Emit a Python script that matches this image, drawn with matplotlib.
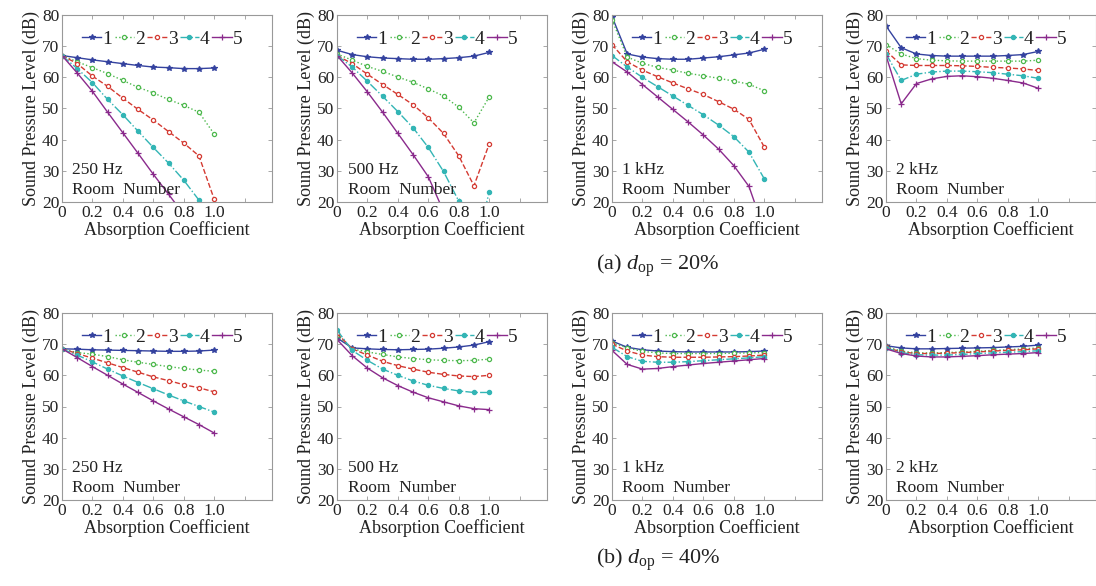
import matplotlib
matplotlib.use("Agg")
import matplotlib.pyplot as plt

plt.rcParams['font.family'] = ['Liberation Serif', 'DejaVu Serif']
plt.rcParams['mathtext.fontset'] = 'custom'
plt.rcParams['mathtext.rm'] = 'Liberation Serif'
plt.rcParams['mathtext.it'] = 'Liberation Serif:italic'

# absorption coefficient (x) shared by all panels
absorp = [0.0, 0.1, 0.2, 0.3, 0.4, 0.5, 0.6, 0.7, 0.8, 0.9, 1.0]
xtick_pos = [0.0, 0.2, 0.4, 0.6, 0.8, 1.0, 1.2]
xtick_lab = ['0', '0.2', '0.4', '0.6', '0.8', '1.0', '']
yticks = [20, 30, 40, 50, 60, 70, 80]
rooms = ['1', '2', '3', '4', '5']
freqs = ['250 Hz', '500 Hz', '1 kHz', '2 kHz']
captions = [r'(a) $d_{\rm op}$ = 20%', r'(b) $d_{\rm op}$ = 40%']

# SPL (dB) for rooms 1..5, d_op = 20%
spl_a_250 = [
    [67.0, 66.3, 65.6, 65.0, 64.4, 63.8, 63.3, 63.1, 62.8, 62.8, 63.0],
    [67.0, 65.0, 63.1, 61.2, 59.0, 56.8, 55.0, 52.9, 51.0, 48.8, 41.8],
    [67.0, 64.4, 60.4, 57.1, 53.3, 49.7, 46.3, 42.6, 38.9, 34.8, 20.9],
    [67.0, 62.8, 58.3, 52.9, 48.0, 42.7, 37.5, 32.5, 27.0, 20.6, 12.0],
    [67.0, 61.4, 55.5, 48.8, 42.2, 35.6, 28.9, 22.5, 16.0, 9.5, 3.0],
]
spl_a_500 = [
    [68.7, 67.3, 66.6, 66.2, 66.0, 65.8, 65.8, 66.0, 66.3, 66.8, 68.0],
    [67.5, 65.5, 63.5, 61.9, 60.1, 58.4, 56.3, 54.0, 50.4, 45.4, 53.7],
    [67.0, 64.4, 61.0, 57.7, 54.5, 51.2, 47.0, 42.0, 34.8, 25.2, 38.6],
    [67.0, 63.3, 58.7, 53.9, 49.0, 43.8, 37.5, 29.8, 20.3, 3.0, 23.2],
    [67.0, 61.4, 55.3, 48.8, 42.0, 35.2, 28.1, 17.0, 8.0, 2.0, 2.0],
]
spl_a_1k = [
    [79.5, 67.5, 66.5, 66.0, 65.8, 65.8, 66.2, 66.6, 67.2, 67.8, 69.0],
    [78.5, 66.5, 64.5, 63.2, 62.3, 61.3, 60.5, 59.7, 58.8, 57.8, 55.7],
    [70.5, 65.0, 62.3, 60.2, 58.2, 56.3, 54.5, 52.2, 49.8, 46.5, 37.7],
    [67.0, 63.3, 60.0, 57.0, 54.0, 51.0, 48.0, 44.7, 41.0, 36.0, 27.5],
    [65.0, 61.7, 57.7, 53.7, 49.7, 45.7, 41.5, 37.0, 31.7, 25.0, 11.0],
]
spl_a_2k = [
    [76.5, 69.5, 67.5, 67.0, 66.8, 66.8, 66.8, 66.8, 67.0, 67.3, 68.3],
    [70.5, 67.5, 66.0, 65.5, 65.3, 65.2, 65.2, 65.2, 65.2, 65.2, 65.5],
    [68.5, 64.0, 63.8, 63.8, 63.8, 63.7, 63.5, 63.2, 63.0, 62.7, 62.2],
    [67.5, 59.0, 61.0, 61.7, 62.0, 62.0, 61.8, 61.5, 61.0, 60.5, 59.7],
    [67.0, 51.5, 58.0, 59.5, 60.3, 60.5, 60.2, 59.7, 59.0, 58.2, 56.5],
]
# SPL (dB) for rooms 1..5, d_op = 40%
spl_b_250 = [
    [68.5, 68.4, 68.2, 68.1, 68.0, 67.9, 67.8, 67.7, 67.7, 67.8, 68.1],
    [68.5, 67.3, 66.8, 66.0, 65.0, 64.2, 63.5, 62.8, 62.2, 61.7, 61.3],
    [68.5, 67.0, 65.5, 64.0, 62.5, 61.0, 59.5, 58.3, 57.0, 56.0, 54.7],
    [68.5, 66.5, 64.3, 62.0, 59.8, 57.7, 55.7, 53.7, 51.8, 50.0, 48.2],
    [68.5, 65.7, 62.8, 60.0, 57.2, 54.5, 51.8, 49.2, 46.7, 44.2, 41.5],
]
spl_b_500 = [
    [72.0, 68.8, 68.5, 68.3, 68.2, 68.3, 68.4, 68.7, 69.1, 69.7, 70.8],
    [73.0, 68.5, 67.5, 66.7, 65.9, 65.4, 65.0, 64.8, 64.7, 64.8, 65.2],
    [73.5, 68.5, 66.5, 64.5, 63.1, 62.0, 61.0, 60.3, 59.8, 59.6, 60.0],
    [74.5, 68.0, 64.8, 62.0, 60.0, 58.2, 56.8, 55.8, 55.0, 54.5, 54.5],
    [71.5, 66.3, 62.3, 59.2, 56.7, 54.6, 52.8, 51.5, 50.2, 49.3, 49.0],
]
spl_b_1k = [
    [71.0, 69.0, 68.2, 67.8, 67.6, 67.5, 67.5, 67.5, 67.5, 67.6, 67.8],
    [70.5, 68.8, 67.7, 67.2, 67.0, 67.0, 67.0, 67.0, 67.1, 67.2, 67.3],
    [70.0, 67.8, 66.5, 66.0, 65.8, 65.8, 65.8, 65.9, 66.0, 66.2, 66.5],
    [69.0, 66.0, 64.5, 64.2, 64.2, 64.4, 64.7, 65.0, 65.3, 65.6, 66.0],
    [68.0, 63.5, 62.0, 62.2, 62.8, 63.3, 63.8, 64.2, 64.6, 65.0, 65.4],
]
spl_b_2k = [
    [69.5, 68.8, 68.5, 68.5, 68.6, 68.7, 68.8, 68.9, 69.1, 69.3, 69.7],
    [69.2, 67.8, 67.2, 67.2, 67.3, 67.5, 67.7, 68.0, 68.2, 68.5, 68.8],
    [69.0, 67.5, 67.0, 67.0, 67.1, 67.3, 67.5, 67.8, 68.0, 68.2, 68.5],
    [68.8, 67.3, 66.6, 66.5, 66.5, 66.7, 67.0, 67.2, 67.4, 67.6, 67.9],
    [68.5, 67.0, 66.2, 65.9, 65.9, 66.1, 66.3, 66.6, 66.8, 67.0, 67.3],
]
panels = [[spl_a_250, spl_a_500, spl_a_1k, spl_a_2k],
          [spl_b_250, spl_b_500, spl_b_1k, spl_b_2k]]

### line styles for the five rooms
styles = [
    dict(color='#34429f', ls='-', marker='*', mfc='#34429f', ms=4),
    dict(color='#4cb84c', ls=':', marker='o', mfc='white', ms=3),
    dict(color='#d43a32', ls='--', marker='o', mfc='white', ms=3),
    dict(color='#33b5b5', ls='-.', marker='o', mfc='#33b5b5', ms=3),
    dict(color='#8a2a8c', ls='-', marker='+', mfc='#8a2a8c', ms=5),
]

W, H = 1096, 586
fig = plt.figure(figsize=(W / 100, H / 100), dpi=100)

row_top = [15, 313]
ax_h = 187
ax_w = 210
lefts = [62, 337, 612, 886]

for r in range(2):
    for c in range(4):
        l = lefts[c]
        ax = fig.add_axes([l / W, 1 - (row_top[r] + ax_h) / H, ax_w / W, ax_h / H])
        for k in range(5):
            st = styles[k]
            ax.plot(absorp, panels[r][c][k], color=st['color'], ls=st['ls'], lw=1.0,
                    marker=st['marker'], ms=st['ms'], mfc=st['mfc'], mec=st['color'],
                    mew=0.9, label=rooms[k])
        ax.set_xlim(0, 1.38)
        ax.set_ylim(20, 80)
        ax.set_xticks(xtick_pos)
        ax.set_xticklabels(xtick_lab)
        ax.set_yticks(yticks)
        ax.tick_params(direction='in', length=3, width=0.6, top=True, right=True,
                       labelsize=12.5, colors='#999999', labelcolor='#222222', pad=2)
        for sp in ax.spines.values():
            sp.set_color('#999999')
            sp.set_linewidth(0.8)
        ax.set_xlabel('Absorption Coefficient', fontsize=13, color='#222222', labelpad=0)
        ax.set_ylabel('Sound Pressure Level (dB)', fontsize=13, color='#222222', labelpad=1)
        ax.text(0.05, 0.15, freqs[c], transform=ax.transAxes, fontsize=12.5, color='#222222')
        ax.text(0.05, 0.045, 'Room  Number', transform=ax.transAxes, fontsize=12.5, color='#222222')
        ax.legend(loc='upper left', bbox_to_anchor=(0.03, 0.99), ncol=5, frameon=False,
                  fontsize=14, handlelength=1.0, handletextpad=0.05, columnspacing=0.12,
                  borderaxespad=0.3, labelcolor='#222222')

fig.text(658 / W, 1 - 266 / H, captions[0], ha='center', va='center', fontsize=16, color='#222222')
fig.text(658 / W, 1 - 560 / H, captions[1], ha='center', va='center', fontsize=16, color='#222222')

fig.savefig('out.png', dpi=100)
